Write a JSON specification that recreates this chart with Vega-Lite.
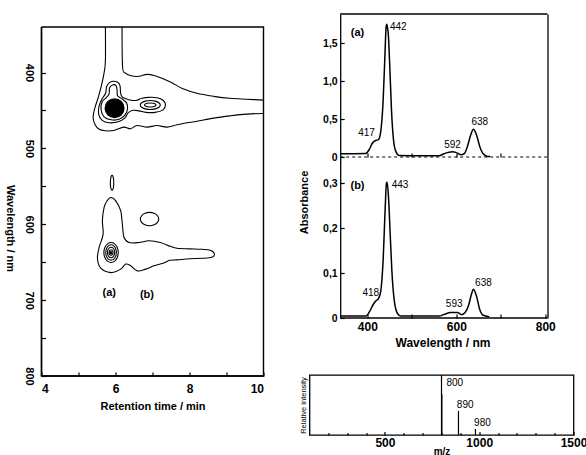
{
  "$schema": "https://vega.github.io/schema/vega-lite/v6.json",
  "padding": {"left": 4.5, "top": 13, "right": 0, "bottom": 0},
  "background": "white",
  "config": {
    "view": {"stroke": null},
    "font": "Liberation Sans",
    "axis": {"grid": false, "domainColor": "black", "domainWidth": 1.3, "tickColor": "black", "tickWidth": 1.2, "labelColor": "black", "titleColor": "black", "labelFontWeight": "bold", "titleFontWeight": "bold", "labelFont": "Liberation Sans", "titleFont": "Liberation Sans", "labelOverlap": false},
    "text": {"color": "black"}
  },
  "datasets": {
    "frame": [{"t":4,"w":340},{"t":10,"w":340},{"t":10,"w":800},{"t":4,"w":800},{"t":4,"w":340}],
    "loops": [
      {"c":"L2","t":5.934,"w":411.6},{"c":"L2","t":6.056,"w":412.9},{"c":"L2","t":6.123,"w":417.5},{"c":"L2","t":6.137,"w":426.8},{"c":"L2","t":6.177,"w":432.0},{"c":"L2","t":6.285,"w":434.7},{"c":"L2","t":6.420,"w":436.6},{"c":"L2","t":6.581,"w":436.6},{"c":"L2","t":6.715,"w":434.0},{"c":"L2","t":6.904,"w":432.7},{"c":"L2","t":7.120,"w":433.3},{"c":"L2","t":7.285,"w":436.6},{"c":"L2","t":7.351,"w":442.6},{"c":"L2","t":7.285,"w":449.2},{"c":"L2","t":7.068,"w":452.5},{"c":"L2","t":6.823,"w":452.5},{"c":"L2","t":6.635,"w":450.5},{"c":"L2","t":6.474,"w":449.8},{"c":"L2","t":6.339,"w":453.1},{"c":"L2","t":6.258,"w":459.7},{"c":"L2","t":6.069,"w":465.0},{"c":"L2","t":5.827,"w":466.3},{"c":"L2","t":5.638,"w":463.0},{"c":"L2","t":5.543,"w":454.4},{"c":"L2","t":5.557,"w":443.9},{"c":"L2","t":5.638,"w":434.7},{"c":"L2","t":5.732,"w":427.4},{"c":"L2","t":5.759,"w":418.8},{"c":"L2","t":5.827,"w":413.6},
      {"c":"L3","t":5.934,"w":416.2},{"c":"L3","t":6.015,"w":417.5},{"c":"L3","t":6.042,"w":422.8},{"c":"L3","t":6.056,"w":430.7},{"c":"L3","t":6.177,"w":434.7},{"c":"L3","t":6.299,"w":440.0},{"c":"L3","t":6.326,"w":447.8},{"c":"L3","t":6.258,"w":455.8},{"c":"L3","t":6.096,"w":461.7},{"c":"L3","t":5.880,"w":462.3},{"c":"L3","t":5.692,"w":458.4},{"c":"L3","t":5.611,"w":449.2},{"c":"L3","t":5.638,"w":438.6},{"c":"L3","t":5.746,"w":433.3},{"c":"L3","t":5.827,"w":428.1},{"c":"L3","t":5.840,"w":420.2},
      {"c":"B1","t":7.210,"w":442.8},{"c":"B1","t":7.174,"w":445.8},{"c":"B1","t":7.075,"w":447.9},{"c":"B1","t":6.940,"w":448.7},{"c":"B1","t":6.805,"w":447.9},{"c":"B1","t":6.706,"w":445.8},{"c":"B1","t":6.670,"w":442.8},{"c":"B1","t":6.706,"w":439.9},{"c":"B1","t":6.805,"w":437.7},{"c":"B1","t":6.940,"w":436.9},{"c":"B1","t":7.075,"w":437.7},{"c":"B1","t":7.174,"w":439.9},
      {"c":"B2","t":7.096,"w":442.8},{"c":"B2","t":7.075,"w":444.1},{"c":"B2","t":7.018,"w":445.1},{"c":"B2","t":6.940,"w":445.4},{"c":"B2","t":6.862,"w":445.1},{"c":"B2","t":6.805,"w":444.1},{"c":"B2","t":6.784,"w":442.8},{"c":"B2","t":6.805,"w":441.5},{"c":"B2","t":6.862,"w":440.6},{"c":"B2","t":6.940,"w":440.2},{"c":"B2","t":7.018,"w":440.6},{"c":"B2","t":7.075,"w":441.5},
      {"c":"E1","t":5.953,"w":545.4},{"c":"E1","t":5.947,"w":550.4},{"c":"E1","t":5.930,"w":554.0},{"c":"E1","t":5.907,"w":555.3},{"c":"E1","t":5.884,"w":554.0},{"c":"E1","t":5.867,"w":550.4},{"c":"E1","t":5.861,"w":545.4},{"c":"E1","t":5.867,"w":540.4},{"c":"E1","t":5.884,"w":536.8},{"c":"E1","t":5.907,"w":535.5},{"c":"E1","t":5.930,"w":536.8},{"c":"E1","t":5.947,"w":540.4},
      {"c":"E2","t":7.168,"w":593.2},{"c":"E2","t":7.135,"w":597.6},{"c":"E2","t":7.044,"w":600.8},{"c":"E2","t":6.920,"w":602.0},{"c":"E2","t":6.796,"w":600.8},{"c":"E2","t":6.705,"w":597.6},{"c":"E2","t":6.672,"w":593.2},{"c":"E2","t":6.705,"w":588.8},{"c":"E2","t":6.796,"w":585.6},{"c":"E2","t":6.920,"w":584.4},{"c":"E2","t":7.044,"w":585.6},{"c":"E2","t":7.135,"w":588.8},
      {"c":"LOW","t":5.872,"w":564.8},{"c":"LOW","t":6.007,"w":569.1},{"c":"LOW","t":6.142,"w":582.3},{"c":"LOW","t":6.185,"w":599.8},{"c":"LOW","t":6.231,"w":617.5},{"c":"LOW","t":6.366,"w":624.1},{"c":"LOW","t":6.636,"w":624.1},{"c":"LOW","t":6.905,"w":621.8},{"c":"LOW","t":7.211,"w":624.1},{"c":"LOW","t":7.480,"w":629.1},{"c":"LOW","t":7.661,"w":631.7},{"c":"LOW","t":8.012,"w":632.4},{"c":"LOW","t":8.336,"w":633.0},{"c":"LOW","t":8.560,"w":634.3},{"c":"LOW","t":8.673,"w":638.9},{"c":"LOW","t":8.606,"w":643.6},{"c":"LOW","t":8.336,"w":644.9},{"c":"LOW","t":8.012,"w":645.5},{"c":"LOW","t":7.661,"w":646.9},{"c":"LOW","t":7.472,"w":647.5},{"c":"LOW","t":7.284,"w":651.5},{"c":"LOW","t":7.041,"w":654.8},{"c":"LOW","t":6.817,"w":659.1},{"c":"LOW","t":6.590,"w":661.4},{"c":"LOW","t":6.412,"w":654.8},{"c":"LOW","t":6.277,"w":652.5},{"c":"LOW","t":6.142,"w":659.1},{"c":"LOW","t":5.916,"w":663.6},{"c":"LOW","t":5.692,"w":661.4},{"c":"LOW","t":5.557,"w":654.8},{"c":"LOW","t":5.511,"w":643.8},{"c":"LOW","t":5.557,"w":630.6},{"c":"LOW","t":5.665,"w":613.0},{"c":"LOW","t":5.646,"w":595.5},{"c":"LOW","t":5.692,"w":577.9},{"c":"LOW","t":5.773,"w":569.1},
      {"c":"R1","t":6.074,"w":637.2},{"c":"R1","t":6.048,"w":643.8},{"c":"R1","t":5.977,"w":648.6},{"c":"R1","t":5.880,"w":650.4},{"c":"R1","t":5.783,"w":648.6},{"c":"R1","t":5.712,"w":643.8},{"c":"R1","t":5.686,"w":637.2},{"c":"R1","t":5.712,"w":630.6},{"c":"R1","t":5.783,"w":625.8},{"c":"R1","t":5.880,"w":624.0},{"c":"R1","t":5.977,"w":625.8},{"c":"R1","t":6.048,"w":630.6},
      {"c":"R2","t":6.023,"w":637.2},{"c":"R2","t":6.004,"w":642.3},{"c":"R2","t":5.952,"w":646.0},{"c":"R2","t":5.880,"w":647.3},{"c":"R2","t":5.808,"w":646.0},{"c":"R2","t":5.756,"w":642.3},{"c":"R2","t":5.737,"w":637.2},{"c":"R2","t":5.756,"w":632.2},{"c":"R2","t":5.808,"w":628.5},{"c":"R2","t":5.880,"w":627.1},{"c":"R2","t":5.952,"w":628.5},{"c":"R2","t":6.004,"w":632.2},
      {"c":"R3","t":5.977,"w":637.2},{"c":"R3","t":5.964,"w":640.7},{"c":"R3","t":5.929,"w":643.2},{"c":"R3","t":5.880,"w":644.1},{"c":"R3","t":5.831,"w":643.2},{"c":"R3","t":5.796,"w":640.7},{"c":"R3","t":5.783,"w":637.2},{"c":"R3","t":5.796,"w":633.8},{"c":"R3","t":5.831,"w":631.2},{"c":"R3","t":5.880,"w":630.3},{"c":"R3","t":5.929,"w":631.2},{"c":"R3","t":5.964,"w":633.8},
      {"c":"R4","t":5.934,"w":637.2},{"c":"R4","t":5.927,"w":639.1},{"c":"R4","t":5.907,"w":640.4},{"c":"R4","t":5.880,"w":640.9},{"c":"R4","t":5.853,"w":640.4},{"c":"R4","t":5.833,"w":639.1},{"c":"R4","t":5.826,"w":637.2},{"c":"R4","t":5.833,"w":635.4},{"c":"R4","t":5.853,"w":634.0},{"c":"R4","t":5.880,"w":633.5},{"c":"R4","t":5.907,"w":634.0},{"c":"R4","t":5.927,"w":635.4}
    ],
    "open": [
      {"c":"L1a","t":5.727,"w":340},{"c":"L1a","t":5.727,"w":384.6},{"c":"L1a","t":5.692,"w":400.4},{"c":"L1a","t":5.624,"w":416.2},{"c":"L1a","t":5.530,"w":433.3},{"c":"L1a","t":5.435,"w":447.8},{"c":"L1a","t":5.395,"w":459.7},{"c":"L1a","t":5.449,"w":468.9},{"c":"L1a","t":5.557,"w":474.9},{"c":"L1a","t":5.719,"w":476.8},{"c":"L1a","t":5.953,"w":476.4},{"c":"L1a","t":6.223,"w":472.0},{"c":"L1a","t":6.401,"w":474.2},{"c":"L1a","t":6.582,"w":469.9},{"c":"L1a","t":6.852,"w":472.0},{"c":"L1a","t":7.122,"w":469.9},{"c":"L1a","t":7.392,"w":472.0},{"c":"L1a","t":7.661,"w":468.9},{"c":"L1a","t":7.931,"w":466.3},{"c":"L1a","t":8.201,"w":464.3},{"c":"L1a","t":8.651,"w":460.1},{"c":"L1a","t":9.099,"w":457.1},{"c":"L1a","t":9.550,"w":454.8},{"c":"L1a","t":10.0,"w":454.0},
      {"c":"L1b","t":10.0,"w":436.4},{"c":"L1b","t":9.550,"w":435.3},{"c":"L1b","t":9.091,"w":434.0},{"c":"L1b","t":8.659,"w":431.4},{"c":"L1b","t":8.201,"w":427.4},{"c":"L1b","t":7.823,"w":421.5},{"c":"L1b","t":7.526,"w":413.6},{"c":"L1b","t":7.284,"w":408.3},{"c":"L1b","t":7.068,"w":404.3},{"c":"L1b","t":6.852,"w":402.4},{"c":"L1b","t":6.636,"w":405.0},{"c":"L1b","t":6.420,"w":404.3},{"c":"L1b","t":6.258,"w":400.4},{"c":"L1b","t":6.191,"w":392.5},{"c":"L1b","t":6.177,"w":340}
    ],
    "blob": [{"t":5.975,"w":447}],
    "dot": [{"t":5.875,"w":637.5}],
    "tagsLeft": [{"lab":"(a)","t":5.83,"w":690.5},{"lab":"(b)","t":6.85,"w":693.1}],
    "specA": [
      {"nm":339,"A":0.043},{"nm":370,"A":0.043},{"nm":396.5,"A":0.045},{"nm":404,"A":0.096},{"nm":411.6,"A":0.184},{"nm":419,"A":0.218},{"nm":425,"A":0.228},{"nm":430.2,"A":0.337},{"nm":435.6,"A":0.754},{"nm":440,"A":1.41},{"nm":442,"A":1.70},{"nm":443.7,"A":1.75},{"nm":445.5,"A":1.70},{"nm":447.5,"A":1.59},{"nm":450.5,"A":1.19},{"nm":454.3,"A":0.62},{"nm":458.8,"A":0.228},{"nm":464,"A":0.074},{"nm":471.6,"A":0.021},{"nm":520,"A":0.018},{"nm":561.5,"A":0.018},{"nm":572.7,"A":0.043},{"nm":580,"A":0.058},{"nm":587.5,"A":0.066},{"nm":592,"A":0.068},{"nm":598.8,"A":0.061},{"nm":605,"A":0.045},{"nm":610,"A":0.03},{"nm":617.6,"A":0.043},{"nm":625,"A":0.14},{"nm":632.5,"A":0.293},{"nm":638.5,"A":0.365},{"nm":645.3,"A":0.293},{"nm":652.7,"A":0.14},{"nm":660.4,"A":0.043},{"nm":670,"A":0.008},{"nm":676,"A":0.005}
    ],
    "specB": [
      {"nm":339,"A":0.0044},{"nm":396.5,"A":0.0044},{"nm":405.6,"A":0.0155},{"nm":413.2,"A":0.030},{"nm":419,"A":0.038},{"nm":425,"A":0.043},{"nm":430.2,"A":0.060},{"nm":435.6,"A":0.130},{"nm":440,"A":0.241},{"nm":443,"A":0.300},{"nm":444.5,"A":0.302},{"nm":447.5,"A":0.270},{"nm":451.3,"A":0.189},{"nm":455,"A":0.108},{"nm":460.3,"A":0.041},{"nm":467.8,"A":0.010},{"nm":475,"A":0.0044},{"nm":561.5,"A":0.0044},{"nm":572.7,"A":0.008},{"nm":587.5,"A":0.012},{"nm":602.6,"A":0.012},{"nm":612.2,"A":0.0075},{"nm":619.8,"A":0.012},{"nm":627.3,"A":0.027},{"nm":634,"A":0.053},{"nm":638.5,"A":0.064},{"nm":645.3,"A":0.049},{"nm":652.7,"A":0.019},{"nm":660.4,"A":0.006},{"nm":674,"A":0.003}
    ],
    "labA": [{"lab":"442","nm":469.6,"A":1.718},{"lab":"417","nm":398.1,"A":0.316},{"lab":"592","nm":591.4,"A":0.153},{"lab":"638","nm":652.7,"A":0.461}],
    "tagA": [{"lab":"(a)","nm":377.9,"A":1.632}],
    "labB": [{"lab":"443","nm":473.4,"A":0.2965},{"lab":"418","nm":407.8,"A":0.0563},{"lab":"593","nm":595.2,"A":0.0304},{"lab":"638","nm":661,"A":0.0785}],
    "tagB": [{"lab":"(b)","nm":377.9,"A":0.294}],
    "ms": [{"mz":800,"I":100},{"mz":802,"I":68},{"mz":890,"I":40},{"mz":980,"I":10}],
    "mslab": [{"lab":"800","mz":870.4,"I":87.2},{"lab":"890","mz":925.6,"I":49.5},{"lab":"980","mz":1017,"I":20}]
  },
  "spacing": 32,
  "hconcat": [
    {
      "width": 222,
      "height": 362,
      "layer": [
        {
          "data": {"name": "loops"},
          "mark": {"type": "line", "interpolate": "cardinal-closed", "color": "black", "strokeWidth": 1.1},
          "encoding": {
            "x": {"field": "t", "type": "quantitative", "scale": {"domain": [4, 10], "nice": false, "zero": false},
              "axis": {"orient": "bottom", "values": [4, 5, 6, 7, 8, 9, 10], "labelExpr": "datum.value % 2 == 0 ? '' + datum.value : ''", "domain": false, "zindex": 1, "tickSize": -4, "labelPadding": 11, "labelFontSize": 12, "title": "Retention time / min", "titleFontSize": 11, "titlePadding": 6}},
            "y": {"field": "w", "type": "quantitative", "scale": {"domain": [322.87, 800], "reverse": true, "nice": false, "zero": false},
              "axis": {"orient": "left", "values": [400, 450, 500, 550, 600, 650, 700, 750, 800], "labelExpr": "datum.value % 100 == 0 ? '' + datum.value : ''", "domain": false, "zindex": 1, "tickSize": -4, "labelPadding": 11, "labelAngle": 90, "labelAlign": "center", "labelBaseline": "top", "labelFontSize": 11, "title": "Wavelength / nm", "titleAngle": 90, "titleBaseline": "top", "titleFontSize": 11, "titlePadding": 8, "titleY": 214}},
            "detail": {"field": "c"},
            "order": {"value": null}
          }
        },
        {
          "data": {"name": "open"},
          "mark": {"type": "line", "interpolate": "cardinal", "color": "black", "strokeWidth": 1.1},
          "encoding": {
            "x": {"field": "t", "type": "quantitative", "axis": null},
            "y": {"field": "w", "type": "quantitative", "axis": null},
            "detail": {"field": "c"},
            "order": {"value": null}
          }
        },
        {
          "data": {"name": "blob"},
          "mark": {"type": "point", "filled": true, "color": "black", "opacity": 1, "size": 400},
          "encoding": {"x": {"field": "t", "type": "quantitative", "axis": null}, "y": {"field": "w", "type": "quantitative", "axis": null}}
        },
        {
          "data": {"name": "dot"},
          "mark": {"type": "point", "filled": true, "color": "black", "opacity": 1, "size": 12},
          "encoding": {"x": {"field": "t", "type": "quantitative", "axis": null}, "y": {"field": "w", "type": "quantitative", "axis": null}}
        },
        {
          "data": {"name": "tagsLeft"},
          "mark": {"type": "text", "fontSize": 11, "fontWeight": "bold"},
          "encoding": {"x": {"field": "t", "type": "quantitative", "axis": null}, "y": {"field": "w", "type": "quantitative", "axis": null}, "text": {"field": "lab"}}
        },
        {
          "data": {"name": "frame"},
          "mark": {"type": "line", "color": "black", "strokeWidth": 1.4, "interpolate": "linear", "opacity": 1},
          "encoding": {
            "x": {"field": "t", "type": "quantitative", "axis": null},
            "y": {"field": "w", "type": "quantitative", "axis": null},
            "order": {"value": null}
          }
        },
        {
          "data": {"values": [{}]},
          "mark": {"type": "rule", "color": "black", "strokeWidth": 1.4},
          "encoding": {"x": {"datum": 4, "type": "quantitative", "axis": null}, "y": {"datum": 340, "type": "quantitative", "axis": null}, "y2": {"datum": 800}}
        },
        {
          "data": {"values": [{}]},
          "mark": {"type": "rule", "color": "black", "strokeWidth": 1.4},
          "encoding": {"x": {"datum": 4, "type": "quantitative", "axis": null}, "x2": {"datum": 10}, "y": {"datum": 800, "type": "quantitative", "axis": null}}
        }
      ],
      "resolve": {"axis": {"x": "independent", "y": "independent"}}
    },
    {
      "spacing": 25,
      "vconcat": [
        {
          "spacing": 0,
          "bounds": "flush",
          "vconcat": [
            {
              "width": 238,
              "height": 143,
              "layer": [
                {
                  "data": {"name": "specA"},
                  "mark": {"type": "line", "color": "black", "strokeWidth": 1.5, "interpolate": "monotone"},
                  "encoding": {
                    "x": {"field": "nm", "type": "quantitative", "scale": {"domain": [270, 805], "nice": false, "zero": false},
                      "axis": {"orient": "bottom", "values": [400, 500, 600, 700], "labels": false, "domain": false, "tickSize": -4, "title": null}},
                    "y": {"field": "A", "type": "quantitative", "scale": {"domain": [0, 1.886], "nice": false},
                      "axis": {"orient": "left", "offset": -30.7, "values": [0, 0.5, 1, 1.5], "labelExpr": "datum.value == 0 ? '0' : replace(format(datum.value, '.1f'), '.', ',')", "tickSize": -4, "labelPadding": 7, "labelFontSize": 10.5, "title": null}}
                  }
                },
                {
                  "data": {"values": [{}]},
                  "mark": {"type": "rule", "color": "black", "strokeDash": [3, 3], "strokeWidth": 1},
                  "encoding": {
                    "x": {"datum": 339, "type": "quantitative", "axis": null},
                    "x2": {"datum": 805},
                    "y": {"datum": 0, "type": "quantitative", "axis": {"orient": "right", "labels": false, "ticks": false, "title": null}}
                  }
                },
                {
                  "data": {"values": [{}]},
                  "mark": {"type": "rule", "color": "black", "strokeWidth": 1.3},
                  "encoding": {
                    "x": {"datum": 339, "type": "quantitative", "axis": null},
                    "x2": {"datum": 805},
                    "y": {"datum": 1.886, "type": "quantitative", "axis": null}
                  }
                },
                {
                  "data": {"name": "labA"},
                  "mark": {"type": "text", "fontSize": 10},
                  "encoding": {
                    "x": {"field": "nm", "type": "quantitative", "axis": null},
                    "y": {"field": "A", "type": "quantitative", "axis": null},
                    "text": {"field": "lab"}
                  }
                },
                {
                  "data": {"name": "tagA"},
                  "mark": {"type": "text", "fontSize": 11, "fontWeight": "bold"},
                  "encoding": {
                    "x": {"field": "nm", "type": "quantitative", "axis": null},
                    "y": {"field": "A", "type": "quantitative", "axis": null},
                    "text": {"field": "lab"}
                  }
                }
              ],
              "resolve": {"axis": {"x": "independent", "y": "independent"}}
            },
            {
              "width": 238,
              "height": 161,
              "layer": [
                {
                  "data": {"name": "specB"},
                  "mark": {"type": "line", "color": "black", "strokeWidth": 1.5, "interpolate": "monotone"},
                  "encoding": {
                    "x": {"field": "nm", "type": "quantitative", "scale": {"domain": [270, 805], "nice": false, "zero": false},
                      "axis": {"orient": "bottom", "values": [400, 500, 600, 700, 800], "labelExpr": "datum.value % 200 == 0 ? '' + datum.value : ''", "domain": false, "tickSize": -4, "labelPadding": 7, "labelFontSize": 12, "title": "Wavelength / nm", "titleFontSize": 12, "titlePadding": 5, "titleX": 133}},
                    "y": {"field": "A", "type": "quantitative", "scale": {"domain": [0, 0.358], "nice": false},
                      "axis": {"orient": "left", "offset": -30.7, "values": [0, 0.1, 0.2, 0.3], "labelExpr": "datum.value == 0 ? '0' : replace(format(datum.value, '.1f'), '.', ',')", "tickSize": -4, "labelPadding": 7, "labelFontSize": 10.5, "title": "Absorbance", "titleFontSize": 11, "titlePadding": 13, "titleY": 45}}
                  }
                },
                {
                  "data": {"values": [{}]},
                  "mark": {"type": "rule", "color": "black", "strokeWidth": 1.3},
                  "encoding": {
                    "x": {"datum": 339, "type": "quantitative", "axis": null},
                    "x2": {"datum": 805},
                    "y": {"datum": 0, "type": "quantitative", "axis": {"orient": "right", "labels": false, "ticks": false, "title": null}}
                  }
                },
                {
                  "data": {"name": "labB"},
                  "mark": {"type": "text", "fontSize": 10},
                  "encoding": {
                    "x": {"field": "nm", "type": "quantitative", "axis": null},
                    "y": {"field": "A", "type": "quantitative", "axis": null},
                    "text": {"field": "lab"}
                  }
                },
                {
                  "data": {"name": "tagB"},
                  "mark": {"type": "text", "fontSize": 11, "fontWeight": "bold"},
                  "encoding": {
                    "x": {"field": "nm", "type": "quantitative", "axis": null},
                    "y": {"field": "A", "type": "quantitative", "axis": null},
                    "text": {"field": "lab"}
                  }
                }
              ],
              "resolve": {"axis": {"x": "independent", "y": "independent"}}
            }
          ]
        },
        {
          "width": 264,
          "height": 60,
          "view": {"stroke": "black", "strokeWidth": 1.3},
          "layer": [
            {
              "data": {"name": "ms"},
              "mark": {"type": "rule", "color": "black", "strokeWidth": 1.2},
              "encoding": {
                "x": {"field": "mz", "type": "quantitative", "scale": {"domain": [100, 1500], "nice": false, "zero": false},
                  "axis": {"values": [200, 300, 400, 600, 700, 800, 900, 1100, 1200, 1300, 1400], "labels": false, "domain": false, "tickSize": -2.5, "title": null}},
                "y": {"field": "I", "type": "quantitative", "scale": {"domain": [0, 100], "nice": false},
                  "axis": {"labels": false, "ticks": false, "domain": false, "title": "Relative intensity", "titleFontSize": 7.5, "titleFontWeight": "normal", "titlePadding": 2}},
                "y2": {"datum": 0}
              }
            },
            {
              "data": {"name": "mslab"},
              "mark": {"type": "text", "fontSize": 10},
              "encoding": {
                "x": {"field": "mz", "type": "quantitative",
                  "axis": {"orient": "bottom", "values": [500, 1000, 1500], "format": "d", "labelOverlap": false, "labelFlush": false, "domain": false, "tickSize": -3.5, "labelPadding": 5.5, "labelFontSize": 12, "title": "m/z", "titleFontSize": 10, "titlePadding": -2}},
                "y": {"field": "I", "type": "quantitative", "axis": null},
                "text": {"field": "lab"}
              }
            }
          ],
          "resolve": {"axis": {"x": "independent", "y": "independent"}}
        }
      ]
    }
  ]
}
